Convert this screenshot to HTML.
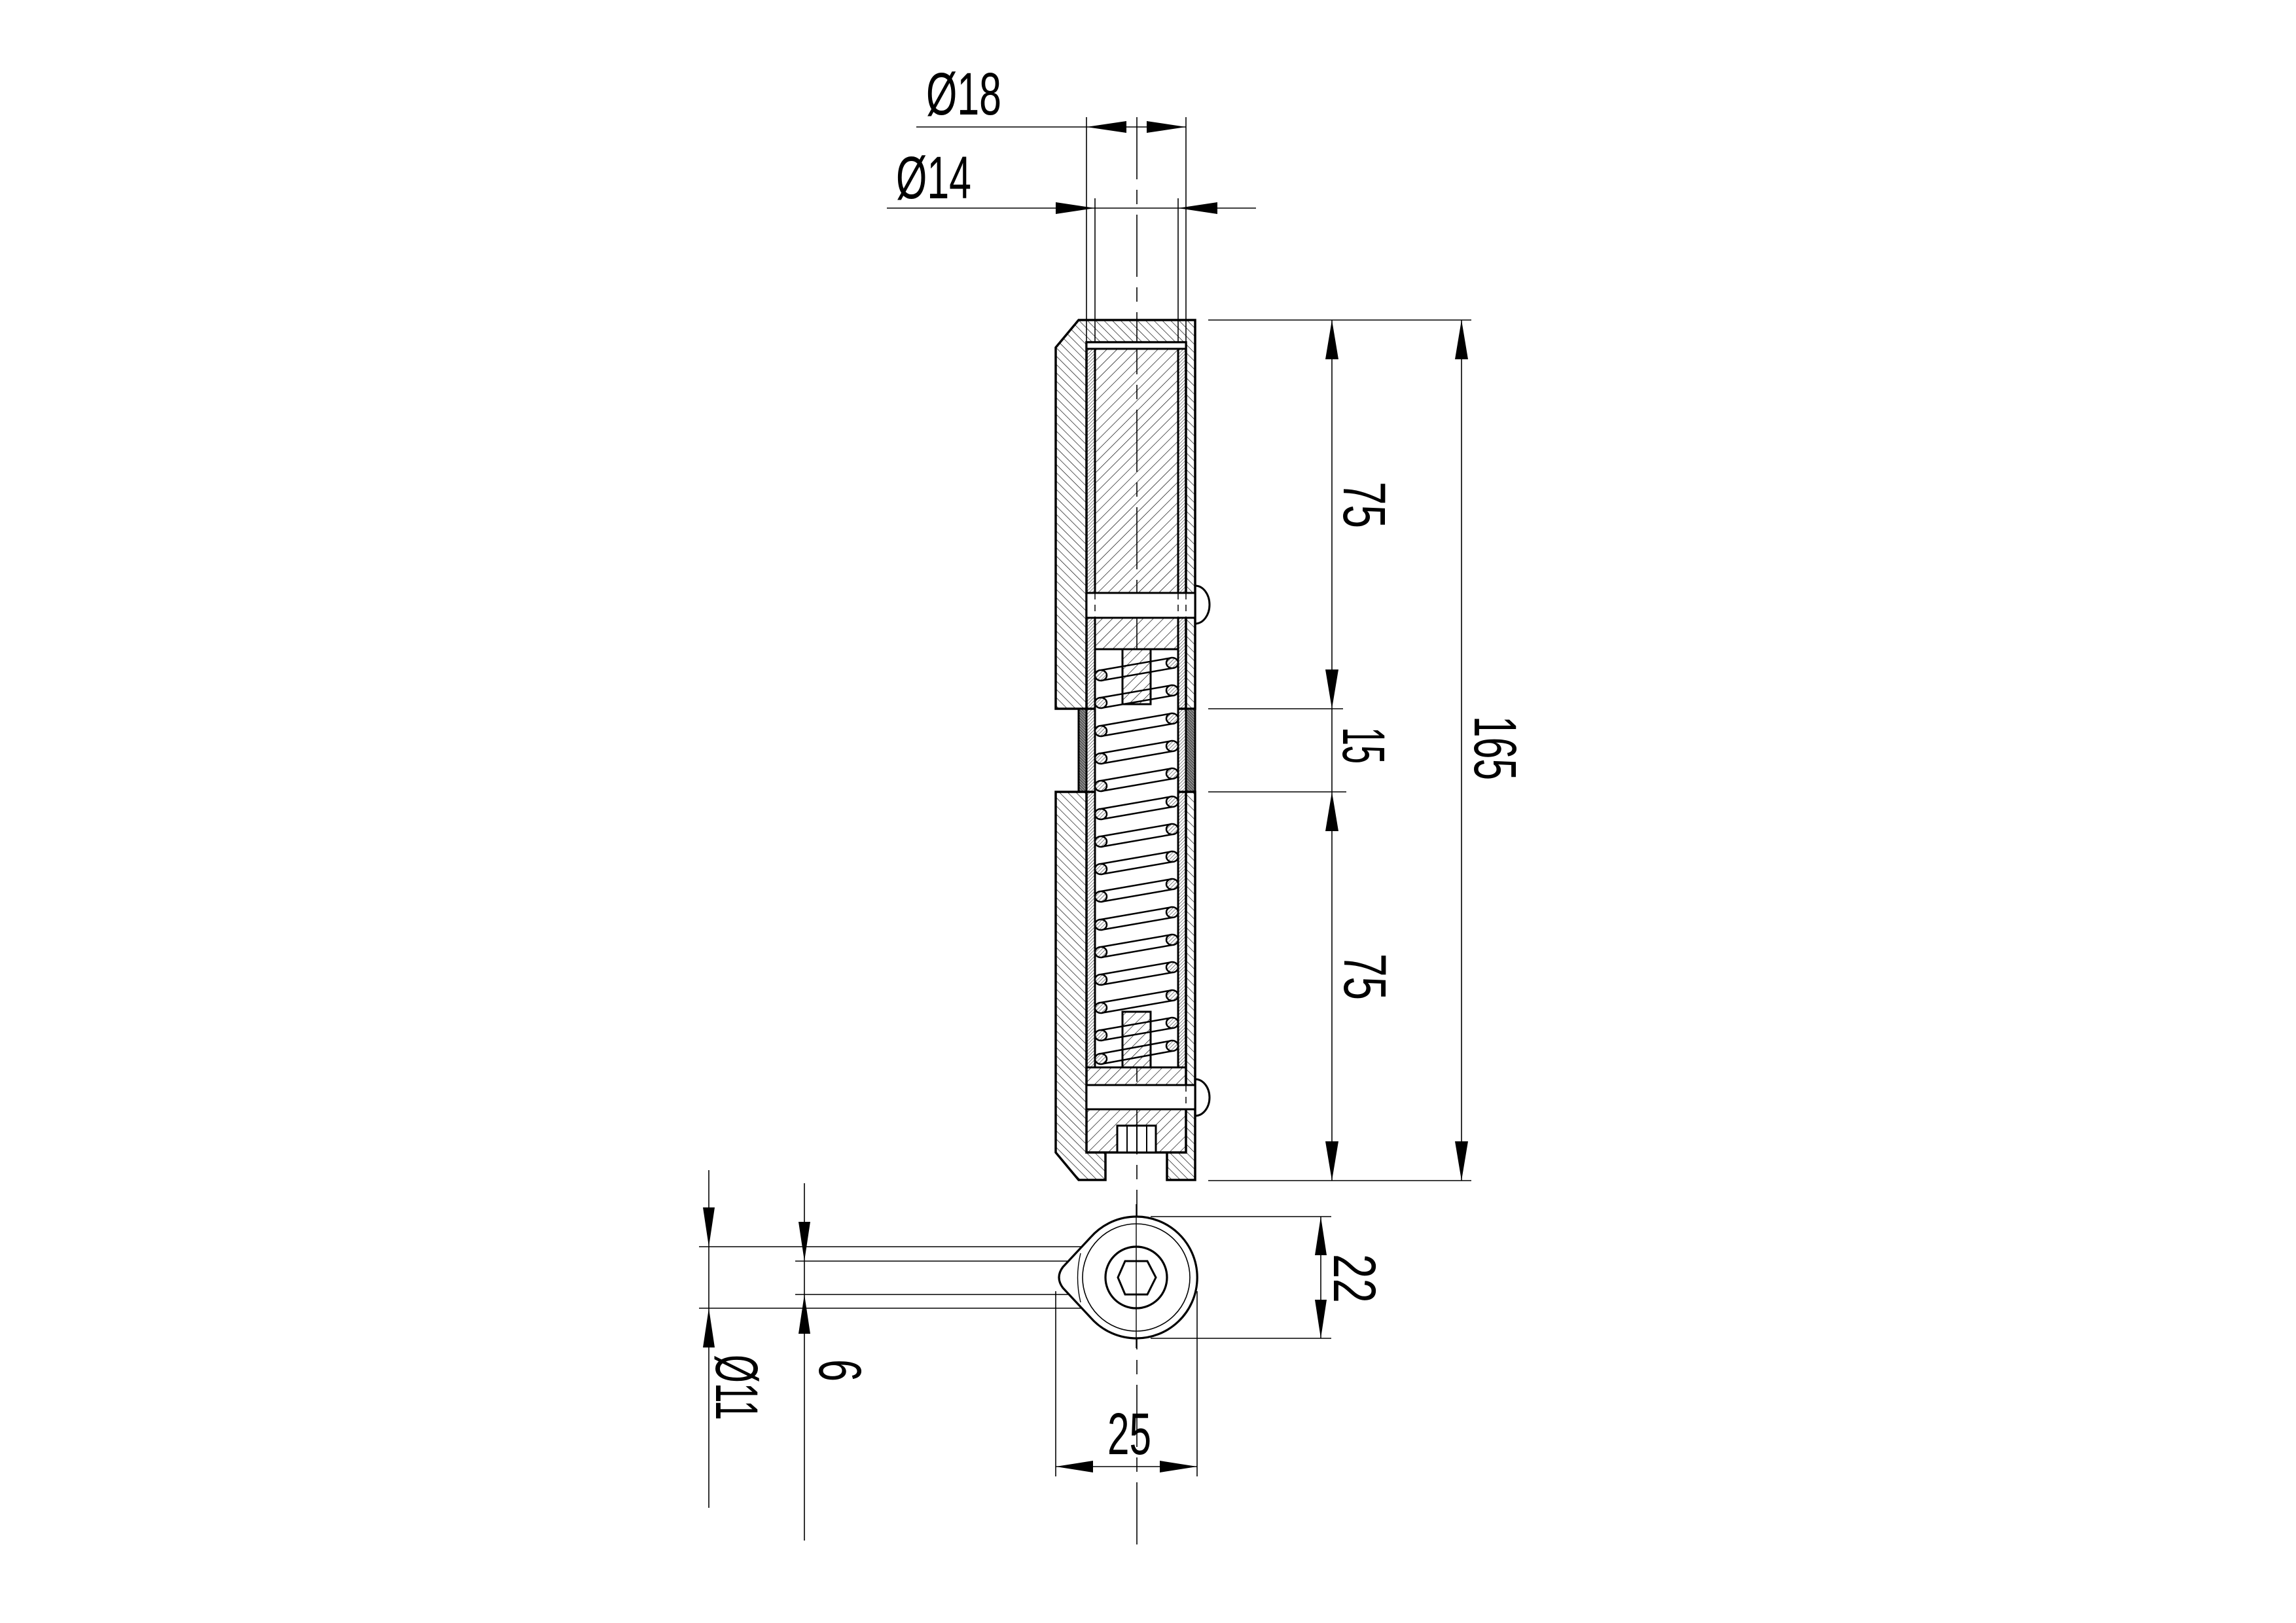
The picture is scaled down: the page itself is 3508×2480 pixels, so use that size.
<!DOCTYPE html>
<html><head><meta charset="utf-8"><style>
html,body{margin:0;padding:0;background:#fff;}
svg{display:block;}
text{font-family:"Liberation Sans",sans-serif;fill:#000;}
</style></head><body>
<svg width="3508" height="2480" viewBox="0 0 3508 2480" xmlns="http://www.w3.org/2000/svg">
<defs>
<pattern id="hb" width="9" height="9" patternUnits="userSpaceOnUse" patternTransform="rotate(-45)"><line x1="0" y1="0" x2="0" y2="9" stroke="#000" stroke-width="1.3"/></pattern>
<pattern id="hc" width="11" height="11" patternUnits="userSpaceOnUse" patternTransform="rotate(45)"><line x1="0" y1="0" x2="0" y2="11" stroke="#000" stroke-width="1.3"/></pattern>
<pattern id="hs" width="3.5" height="3.5" patternUnits="userSpaceOnUse" patternTransform="rotate(45)"><line x1="0" y1="0" x2="0" y2="3.5" stroke="#000" stroke-width="0.9"/></pattern>
<pattern id="hr" width="3" height="3" patternUnits="userSpaceOnUse" patternTransform="rotate(-45)"><rect width="3" height="3" fill="#888"/><line x1="0" y1="0" x2="0" y2="3" stroke="#000" stroke-width="1"/></pattern>
<pattern id="hw" width="4" height="4" patternUnits="userSpaceOnUse" patternTransform="rotate(45)"><rect width="4" height="4" fill="#fff"/><line x1="0" y1="0" x2="0" y2="4" stroke="#000" stroke-width="0.9"/></pattern>
</defs>

<!-- centerline -->
<line x1="1737" y1="179" x2="1737" y2="2360" stroke="#000" stroke-width="1.6" stroke-dasharray="95 16 22 16"/>

<g stroke="#000" stroke-linejoin="miter">
<!-- upper body -->
<path d="M1648,489 H1826 V1083 H1613 V531 Z M1660,523 H1812 V1083 H1660 Z" fill="url(#hb)" fill-rule="evenodd" stroke-width="3.5"/>
<!-- ring -->
<rect x="1648" y="1083" width="12" height="127" fill="url(#hr)" stroke-width="3"/>
<rect x="1812" y="1083" width="14" height="127" fill="url(#hr)" stroke-width="3"/>
<!-- lower body -->
<path d="M1613,1210 H1826 V1803 H1783 V1761 H1689 V1803 H1648 L1613,1761 Z M1660,1210 H1812 V1761 H1660 Z" fill="url(#hb)" fill-rule="evenodd" stroke-width="3.5"/>
<!-- sleeves -->
<rect x="1660" y="533" width="13" height="1098" fill="url(#hs)" stroke-width="3"/>
<rect x="1800" y="533" width="12" height="1098" fill="url(#hs)" stroke-width="3"/>
<!-- spring area white -->
<rect x="1673" y="992" width="127" height="639" fill="#fff" stroke-width="3"/>
<!-- cap line -->
<rect x="1660" y="523" width="152" height="10" fill="#fff" stroke-width="3"/>
<!-- upper core -->
<rect x="1673" y="533" width="127" height="373" fill="url(#hc)" stroke-width="3"/>
<!-- upper slot -->
<rect x="1660" y="906" width="166" height="38" fill="#fff" stroke-width="3"/>
<path d="M1826,895 A22,29 0 0 1 1826,953" fill="none" stroke-width="3"/>
<!-- upper plug -->
<path d="M1673,944 H1800 V992 H1758 V1076 H1715 V992 H1673 Z" fill="url(#hc)" stroke-width="3"/>
<!-- lower plug -->
<path d="M1715,1546 H1758 V1631 H1812 V1658 H1660 V1631 H1715 Z" fill="url(#hc)" stroke-width="3"/>
<!-- lower slot -->
<rect x="1660" y="1658" width="166" height="37" fill="#fff" stroke-width="3"/>
<path d="M1826,1649 A22,28 0 0 1 1826,1705" fill="none" stroke-width="3"/>
<!-- lower block -->
<rect x="1660" y="1695" width="152" height="66" fill="url(#hc)" stroke-width="3"/>
<rect x="1707" y="1720" width="59" height="41" fill="#fff" stroke-width="3"/>
<line x1="1722" y1="1720" x2="1722" y2="1761" stroke-width="2"/>
<line x1="1737" y1="1720" x2="1737" y2="1761" stroke-width="2"/>
<line x1="1752" y1="1720" x2="1752" y2="1761" stroke-width="2"/>
</g>
<!-- dashes in slots -->
<g stroke="#000" stroke-width="1.5" stroke-dasharray="10 8">
<line x1="1673" y1="906" x2="1673" y2="944"/><line x1="1800" y1="906" x2="1800" y2="944"/><line x1="1812" y1="906" x2="1812" y2="944"/>
<line x1="1812" y1="1658" x2="1812" y2="1695"/>
</g>

<!-- spring -->
<g stroke="#000" stroke-width="2.5">
<line x1="1682" y1="1024" x2="1791" y2="1005"/><line x1="1682" y1="1040" x2="1791" y2="1021"/>
<line x1="1682" y1="1066" x2="1791" y2="1047"/><line x1="1682" y1="1082" x2="1791" y2="1063"/>
<line x1="1682" y1="1109" x2="1791" y2="1090"/><line x1="1682" y1="1125" x2="1791" y2="1106"/>
<line x1="1682" y1="1151" x2="1791" y2="1132"/><line x1="1682" y1="1167" x2="1791" y2="1148"/>
<line x1="1682" y1="1193" x2="1791" y2="1174"/><line x1="1682" y1="1209" x2="1791" y2="1190"/>
<line x1="1682" y1="1236" x2="1791" y2="1217"/><line x1="1682" y1="1252" x2="1791" y2="1233"/>
<line x1="1682" y1="1278" x2="1791" y2="1259"/><line x1="1682" y1="1294" x2="1791" y2="1275"/>
<line x1="1682" y1="1320" x2="1791" y2="1301"/><line x1="1682" y1="1336" x2="1791" y2="1317"/>
<line x1="1682" y1="1362" x2="1791" y2="1343"/><line x1="1682" y1="1378" x2="1791" y2="1359"/>
<line x1="1682" y1="1405" x2="1791" y2="1386"/><line x1="1682" y1="1421" x2="1791" y2="1402"/>
<line x1="1682" y1="1447" x2="1791" y2="1428"/><line x1="1682" y1="1463" x2="1791" y2="1444"/>
<line x1="1682" y1="1489" x2="1791" y2="1470"/><line x1="1682" y1="1505" x2="1791" y2="1486"/>
<line x1="1682" y1="1532" x2="1791" y2="1513"/><line x1="1682" y1="1548" x2="1791" y2="1529"/>
<line x1="1682" y1="1574" x2="1791" y2="1555"/><line x1="1682" y1="1590" x2="1791" y2="1571"/>
<line x1="1682" y1="1610" x2="1791" y2="1590"/><line x1="1682" y1="1626" x2="1791" y2="1606"/>
</g>
<g stroke="#000" stroke-width="2.5" fill="url(#hw)">
<ellipse cx="1682" cy="1032" rx="9" ry="8"/><ellipse cx="1791" cy="1013" rx="9" ry="8"/>
<ellipse cx="1682" cy="1074" rx="9" ry="8"/><ellipse cx="1791" cy="1055" rx="9" ry="8"/>
<ellipse cx="1682" cy="1117" rx="9" ry="8"/><ellipse cx="1791" cy="1098" rx="9" ry="8"/>
<ellipse cx="1682" cy="1159" rx="9" ry="8"/><ellipse cx="1791" cy="1140" rx="9" ry="8"/>
<ellipse cx="1682" cy="1201" rx="9" ry="8"/><ellipse cx="1791" cy="1182" rx="9" ry="8"/>
<ellipse cx="1682" cy="1244" rx="9" ry="8"/><ellipse cx="1791" cy="1225" rx="9" ry="8"/>
<ellipse cx="1682" cy="1286" rx="9" ry="8"/><ellipse cx="1791" cy="1267" rx="9" ry="8"/>
<ellipse cx="1682" cy="1328" rx="9" ry="8"/><ellipse cx="1791" cy="1309" rx="9" ry="8"/>
<ellipse cx="1682" cy="1370" rx="9" ry="8"/><ellipse cx="1791" cy="1351" rx="9" ry="8"/>
<ellipse cx="1682" cy="1413" rx="9" ry="8"/><ellipse cx="1791" cy="1394" rx="9" ry="8"/>
<ellipse cx="1682" cy="1455" rx="9" ry="8"/><ellipse cx="1791" cy="1436" rx="9" ry="8"/>
<ellipse cx="1682" cy="1497" rx="9" ry="8"/><ellipse cx="1791" cy="1478" rx="9" ry="8"/>
<ellipse cx="1682" cy="1540" rx="9" ry="8"/><ellipse cx="1791" cy="1521" rx="9" ry="8"/>
<ellipse cx="1682" cy="1582" rx="9" ry="8"/><ellipse cx="1791" cy="1563" rx="9" ry="8"/>
<ellipse cx="1682" cy="1618" rx="9" ry="8"/><ellipse cx="1791" cy="1598" rx="9" ry="8"/>
</g>

<!-- dimension lines -->
<g stroke="#000" stroke-width="1.6" fill="none">
<line x1="1400" y1="194" x2="1812" y2="194"/>
<line x1="1355" y1="318" x2="1919" y2="318"/>
<line x1="1660" y1="179" x2="1660" y2="523"/>
<line x1="1812" y1="179" x2="1812" y2="523"/>
<line x1="1673" y1="303" x2="1673" y2="523"/>
<line x1="1800" y1="303" x2="1800" y2="523"/>
<line x1="1846" y1="489" x2="2248" y2="489"/>
<line x1="1846" y1="1083" x2="2052" y2="1083"/>
<line x1="1846" y1="1210" x2="2057" y2="1210"/>
<line x1="1846" y1="1804" x2="2248" y2="1804"/>
<line x1="2035" y1="489" x2="2035" y2="1804"/>
<line x1="2233" y1="489" x2="2233" y2="1804"/>
<!-- bottom view dims -->
<line x1="1083" y1="1788" x2="1083" y2="2304"/>
<line x1="1068" y1="1905" x2="1715" y2="1905"/>
<line x1="1068" y1="1999" x2="1715" y2="1999"/>
<line x1="1229" y1="1808" x2="1229" y2="2354"/>
<line x1="1215" y1="1927" x2="1695" y2="1927"/>
<line x1="1215" y1="1978" x2="1695" y2="1978"/>
<line x1="1758" y1="1859" x2="2034" y2="1859"/>
<line x1="1758" y1="2045" x2="2034" y2="2045"/>
<line x1="2018" y1="1859" x2="2018" y2="2045"/>
<line x1="1613" y1="1973" x2="1613" y2="2256"/>
<line x1="1829" y1="1973" x2="1829" y2="2256"/>
<line x1="1613" y1="2241" x2="1829" y2="2241"/>
</g>
<!-- arrowheads -->
<g fill="#000">
<polygon points="1660,194 1721,185 1721,203"/>
<polygon points="1812,194 1752,185 1752,203"/>
<polygon points="1673,318 1613,309 1613,327"/>
<polygon points="1800,318 1860,309 1860,327"/>
<polygon points="2035,489 2025,549 2045,549"/>
<polygon points="2035,1083 2025,1023 2045,1023"/>
<polygon points="2035,1210 2025,1270 2045,1270"/>
<polygon points="2035,1804 2025,1744 2045,1744"/>
<polygon points="2233,489 2223,549 2243,549"/>
<polygon points="2233,1804 2223,1744 2243,1744"/>
<polygon points="1083,1905 1074,1845 1092,1845"/>
<polygon points="1083,1999 1074,2059 1092,2059"/>
<polygon points="1229,1927 1220,1867 1238,1867"/>
<polygon points="1229,1978 1220,2038 1238,2038"/>
<polygon points="2018,1859 2009,1918 2027,1918"/>
<polygon points="2018,2045 2009,1986 2027,1986"/>
<polygon points="1613,2241 1670,2232 1670,2250"/>
<polygon points="1829,2241 1772,2232 1772,2250"/>
</g>

<!-- bottom view -->
<g stroke="#000" fill="none">
<path d="M1666,1891 A93,93 0 1,1 1666,2013 L1624,1968 Q1612,1952 1624,1936 Z" fill="#fff" stroke-width="3.2"/>
<circle cx="1736" cy="1952" r="82" stroke-width="1.6"/>
<path d="M1651,1915 Q1642,1952 1651,1990" stroke-width="1.4"/>
<circle cx="1736" cy="1952" r="47" stroke-width="3.2"/>
<polygon points="1708,1952 1719,1927 1753,1927 1766,1952 1753,1978 1719,1978" stroke-width="3"/>
</g>
<line x1="1736" y1="1840" x2="1736" y2="2060" stroke="#000" stroke-width="1.4"/>

<!-- texts -->
<text x="1415" y="175" font-size="92" textLength="115" lengthAdjust="spacingAndGlyphs">Ø18</text>
<text x="1369" y="303" font-size="92" textLength="115" lengthAdjust="spacingAndGlyphs">Ø14</text>
<text transform="translate(2086,772) rotate(90)" x="-36" y="33" font-size="92" textLength="71" lengthAdjust="spacingAndGlyphs">75</text>
<text transform="translate(2085,1139) rotate(90)" x="-28" y="33" font-size="92" textLength="56" lengthAdjust="spacingAndGlyphs">15</text>
<text transform="translate(2087,1493) rotate(90)" x="-36" y="33" font-size="92" textLength="71" lengthAdjust="spacingAndGlyphs">75</text>
<text transform="translate(2286,1143) rotate(90)" x="-49" y="33" font-size="92" textLength="98" lengthAdjust="spacingAndGlyphs">165</text>
<text transform="translate(2071,1954) rotate(90)" x="-38" y="33" font-size="92" textLength="75" lengthAdjust="spacingAndGlyphs">22</text>
<text transform="translate(1127,2120) rotate(90)" x="-50" y="33" font-size="92" textLength="100" lengthAdjust="spacingAndGlyphs">Ø11</text>
<text transform="translate(1285,2094) rotate(90)" x="-17" y="33" font-size="92" textLength="34" lengthAdjust="spacingAndGlyphs">6</text>
<text x="1692" y="2222" font-size="90" textLength="67" lengthAdjust="spacingAndGlyphs">25</text>
</svg>
</body></html>
